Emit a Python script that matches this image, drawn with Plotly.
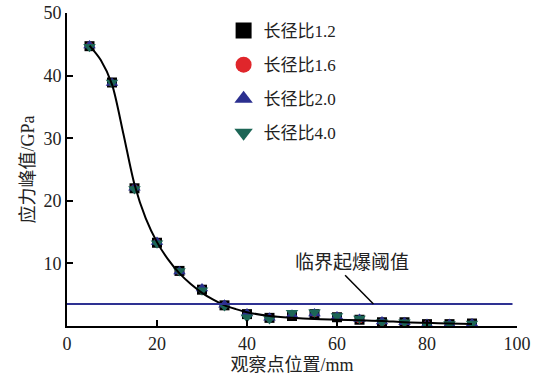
import plotly.graph_objects as go

# observation positions (mm)
x_pos = [5, 10, 15, 20, 25, 30, 35, 40, 45, 50, 55, 60, 65, 70, 75, 80, 85, 90]

# peak stress (GPa) for each aspect ratio
r12 = [44.7, 38.9, 22.0, 13.3, 8.8, 5.8, 3.3, 1.9, 1.3, 1.6, 1.9, 1.4, 1.0, 0.6, 0.6, 0.3, 0.3, 0.4]
r16 = [44.8, 38.8, 22.1, 13.4, 8.7, 5.9, 3.3, 1.9, 1.3, 1.7, 2.0, 1.5, 1.0, 0.6, 0.6, 0.3, 0.3, 0.4]
r20 = [44.8, 38.8, 22.1, 13.4, 8.7, 6.0, 3.4, 2.0, 1.3, 1.8, 2.0, 1.5, 1.1, 0.7, 0.6, 0.3, 0.3, 0.4]
r40 = [44.6, 38.9, 21.9, 13.2, 8.8, 5.7, 3.2, 1.4, 1.1, 2.1, 2.2, 1.6, 1.2, 0.6, 0.6, 0.2, 0.3, 0.4]

# fitted curve
fit_x = [5, 7.5, 10, 12.5, 15, 17.5, 20, 22.5, 25, 27.5, 30, 32.5, 35, 37.5, 40,
         45, 50, 55, 60, 65, 70, 75, 80, 85, 90]
fit_y = [44.8, 42.5, 38.6, 30.8, 22.6, 17.2, 13.4, 10.6, 8.4, 6.7, 5.3, 4.2, 3.3, 2.7, 2.2,
         1.6, 1.3, 1.1, 1.0, 0.9, 0.8, 0.6, 0.5, 0.4, 0.3]

threshold = 3.5
threshold_label = "临界起爆阈值"

series_names = ["长径比1.2", "长径比1.6", "长径比2.0", "长径比4.0"]
series_vals = [r12, r16, r20, r40]
symbols = ["square", "circle", "triangle-up", "triangle-down"]
colors = ["#000000", "#e0262b", "#2b2f8f", "#1c6656"]
data_sizes = [10, 7, 11, 11]

x_ticks = [0, 20, 40, 60, 80, 100]
y_ticks = [10, 20, 30, 40, 50]

FONT = "Liberation Serif, Times New Roman, Noto Sans CJK SC, serif"

fig = go.Figure()

for name, vals, sym, col, sz in zip(series_names, series_vals, symbols, colors, data_sizes):
    fig.add_trace(go.Scatter(
        x=x_pos, y=vals, mode="markers", showlegend=False,
        marker=dict(symbol=sym, color=col, size=sz, line=dict(width=0)),
    ))

fig.add_trace(go.Scatter(
    x=fit_x, y=fit_y, mode="lines", showlegend=False,
    line=dict(color="black", width=2, shape="spline", smoothing=0.8),
))

# legend entries
for i, (name, sym, col) in enumerate(zip(series_names, symbols, colors)):
    fig.add_trace(go.Scatter(
        x=[None], y=[None], mode="markers", name=name, legendgroup=str(i),
        marker=dict(symbol=sym, color=col, size=16, line=dict(width=0)),
    ))

# threshold line
fig.add_shape(type="line", x0=0, x1=99, y0=threshold, y1=threshold,
              xref="x", yref="y", line=dict(color="#2e3192", width=2))
fig.add_shape(type="line", x0=61.8, y0=8.1, x1=68.1, y1=threshold,
              xref="x", yref="y", line=dict(color="black", width=1.5))
fig.add_annotation(x=63.4, y=10.2, xref="x", yref="y", text=threshold_label,
                   showarrow=False, font=dict(family=FONT, size=19, color="#222"))

fig.update_layout(
    width=533, height=383,
    margin=dict(l=67, r=16, t=13, b=57, autoexpand=False),
    paper_bgcolor="white", plot_bgcolor="white",
    font=dict(family=FONT, size=18, color="#222"),
    legend=dict(x=0.348, y=1.0, xanchor="left", yanchor="top",
                font=dict(family=FONT, size=17, color="#222"),
                bgcolor="rgba(0,0,0,0)", tracegroupgap=9,
                itemsizing="trace"),
)
fig.update_xaxes(range=[0, 100], tickvals=x_ticks, showline=True, linecolor="black",
                 linewidth=2, ticks="inside", ticklen=6, tickwidth=2, tickcolor="black",
                 showgrid=False, zeroline=False, automargin=False,
                 title=dict(text="观察点位置/mm", standoff=6, font=dict(size=18)))
fig.update_yaxes(range=[0, 50], tickvals=y_ticks, showline=True, linecolor="black",
                 linewidth=2, ticks="inside", ticklen=6, tickwidth=2, tickcolor="black",
                 showgrid=False, zeroline=False, automargin=False,
                 title=dict(text="应力峰值/GPa", standoff=4, font=dict(size=18)))

fig.write_html("out.html")
